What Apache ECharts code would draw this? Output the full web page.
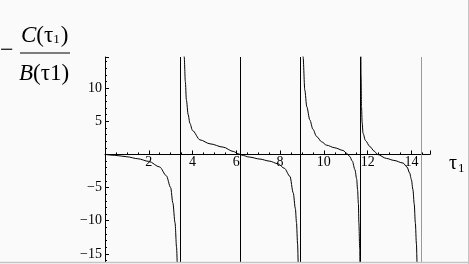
<!DOCTYPE html>
<html>
<head>
<meta charset="utf-8">
<script src="https://cdn.jsdelivr.net/npm/echarts@6/dist/echarts.min.js"></script>
<style>
html,body{margin:0;padding:0;background:#fafafa;}
#c{width:469px;height:264px;}
</style>
</head>
<body>
<div id="c"></div>
<script>
// ---- data ----
const xTicks = [2, 4, 6, 8, 10, 12, 14];
const yTicks = [-15, -10, -5, 5, 10];
// vertical jump lines drawn by the plot
const jumpLines = [3.42, 6.19, 8.93, 11.67, 14.43];
const jumpColors = ['#000', '#000', '#000', '#000', '#999'];

// branch 1: 0 -> pole near 3.33
const b1x = [0, 0.5, 1, 1.5, 2, 2.5, 2.8, 3.0, 3.1, 3.2, 3.27, 3.31, 3.34];
const b1y = [0, -0.15, -0.35, -0.65, -1.05, -1.9, -3.2, -5.0, -7.3, -10.3, -14, -17, -22];
// branch 2: pole near 3.6 -> pole near 8.86
const b2x = [3.6, 3.62, 3.67, 3.72, 3.8, 3.88, 4.0, 4.34, 4.8, 5.4, 5.86, 6.1, 6.24, 6.6, 7.08, 7.5, 7.9, 8.2, 8.45, 8.6, 8.7, 8.75, 8.8, 8.83, 8.86];
const b2y = [16, 14.7, 11, 8.2, 6.0, 4.7, 3.6, 2.2, 1.6, 1.1, 0.45, 0.1, -0.1, -0.4, -0.7, -1.0, -1.4, -2.1, -3.3, -5.8, -8.2, -10.3, -13.5, -16.4, -21];
// branch 3: pole near 9.03 -> pole near 11.66
const b3x = [9.03, 9.05, 9.13, 9.22, 9.36, 9.5, 9.67, 9.9, 10.12, 10.5, 10.88, 11.05, 11.18, 11.3, 11.42, 11.5, 11.54, 11.58, 11.6, 11.64, 11.66];
const b3y = [16, 14.7, 9.7, 7.2, 5.2, 3.8, 2.7, 1.9, 1.4, 1.0, 0.6, 0.15, -0.3, -1.0, -2.3, -3.7, -5.3, -7.5, -10.3, -14.4, -21];
// branch 4: pole near 11.69 -> pole near 14.29
const b4x = [11.69, 11.7, 11.72, 11.75, 11.79, 11.9, 12.1, 12.3, 12.45, 12.86, 13.2, 13.62, 13.8, 13.92, 14.0, 14.07, 14.13, 14.18, 14.23, 14.26, 14.29];
const b4y = [16, 12, 7.2, 4.8, 3.2, 2.1, 1.2, 0.5, 0.0, -0.6, -0.9, -1.3, -1.9, -2.8, -3.8, -5.3, -7.5, -10.3, -13.5, -16.4, -21];

const branches = [[b1x, b1y], [b2x, b2y], [b3x, b3y], [b4x, b4y]];
const SERIF = "'Liberation Serif', 'DejaVu Serif', serif";

const Y_MIN = -20, Y_MAX = 14.7;
const GRID_TOP = 57, GRID_H = 230;
const zeroOffset = -GRID_H * (0 - Y_MIN) / (Y_MAX - Y_MIN);

const chart = echarts.init(document.getElementById('c'), null, {renderer: 'canvas'});

const series = branches.map(([xs, ys]) => ({
  type: 'line',
  data: xs.map((x, i) => [x, ys[i]]),
  showSymbol: false,
  smooth: 0.3,
  smoothMonotone: 'x',
  clip: true,
  lineStyle: {color: '#000', width: 1},
  silent: true,
  animation: false,
  z: 3
}));

series.push({
  type: 'line',
  data: [],
  silent: true,
  animation: false,
  markLine: {
    silent: true,
    symbol: ['none', 'none'],
    label: {show: false},
    animation: false,
    data: jumpLines.map((x, i) => ({xAxis: x, lineStyle: {color: jumpColors[i], width: 1, type: 'solid'}}))
  },
  z: 2
});

const axisCol = '#000';
const option = {
  backgroundColor: '#fafafa',
  animation: false,
  grid: {left: 105, top: GRID_TOP, width: 325, height: GRID_H, outerBoundsMode: 'none', containLabel: false},
  xAxis: {
    type: 'value', min: 0, max: 14.85, interval: 2,
    position: 'bottom', offset: zeroOffset,
    axisLine: {onZero: false, lineStyle: {color: axisCol, width: 1}},
    axisTick: {inside: true, length: 4, lineStyle: {color: axisCol}},
    minorTick: {show: true, splitNumber: 4, length: 2, lineStyle: {color: axisCol}},
    splitLine: {show: false},
    axisLabel: {
      margin: 1, fontFamily: SERIF, fontSize: 14, color: '#000',
      showMinLabel: true, showMaxLabel: true, hideOverlap: false,
      formatter: v => xTicks.indexOf(Math.round(v * 100) / 100) >= 0 ? String(v) : ''
    }
  },
  yAxis: {
    type: 'value', min: Y_MIN, max: Y_MAX, interval: 5,
    position: 'left',
    axisLine: {onZero: false, lineStyle: {color: axisCol, width: 1}},
    axisTick: {inside: true, length: 4, lineStyle: {color: axisCol}},
    minorTick: {show: true, splitNumber: 5, length: 2, lineStyle: {color: axisCol}},
    splitLine: {show: false},
    axisLabel: {
      margin: 3, fontFamily: SERIF, fontSize: 14, color: '#000', hideOverlap: false,
      formatter: v => {
        const r = Math.round(v * 100) / 100;
        if (yTicks.indexOf(r) < 0) return '';
        return r < 0 ? '\u2212' + Math.abs(r) : String(r);
      }
    }
  },
  series: series,
  graphic: [
    {type: 'text', left: 0, top: 39, style: {text: '\u2212', font: '24px ' + SERIF, fill: '#000'}},
    {type: 'line', shape: {x1: 20, y1: 53, x2: 70, y2: 53}, style: {stroke: '#000', lineWidth: 1}},
    {type: 'text', left: 21, top: 24, style: {
      text: '{i|C}{n|(\u03c4}{s|1}{n|)}',
      rich: {
        i: {font: 'italic 23px ' + SERIF, fill: '#000'},
        n: {font: '23px ' + SERIF, fill: '#000'},
        s: {font: '13px ' + SERIF, fill: '#000', padding: [9, 1, 0, 0]}
      }
    }},
    {type: 'text', left: 19, top: 62, style: {
      text: '{i|B}{n|(\u03c41)}',
      rich: {
        i: {font: 'italic 23px ' + SERIF, fill: '#000'},
        n: {font: '23px ' + SERIF, fill: '#000'}
      }
    }},
    {type: 'text', left: 449, top: 154, style: {
      text: '{n|\u03c4}{s|1}',
      rich: {
        n: {font: '20px ' + SERIF, fill: '#000'},
        s: {font: '13px ' + SERIF, fill: '#000', padding: [9, 0, 0, 1]}
      }
    }},
    {type: 'rect', shape: {x: 0, y: 262, width: 469, height: 2}, style: {fill: '#fafafa'}, z: 100},
    {type: 'line', shape: {x1: 0, y1: 262.5, x2: 469, y2: 262.5}, style: {stroke: '#c4c4c4', lineWidth: 1.5}, z: 101},
    {type: 'line', shape: {x1: 468.5, y1: 0, x2: 468.5, y2: 264}, style: {stroke: '#c4c4c4', lineWidth: 1}, z: 101}
  ]
};
chart.setOption(option);
</script>
</body>
</html>
